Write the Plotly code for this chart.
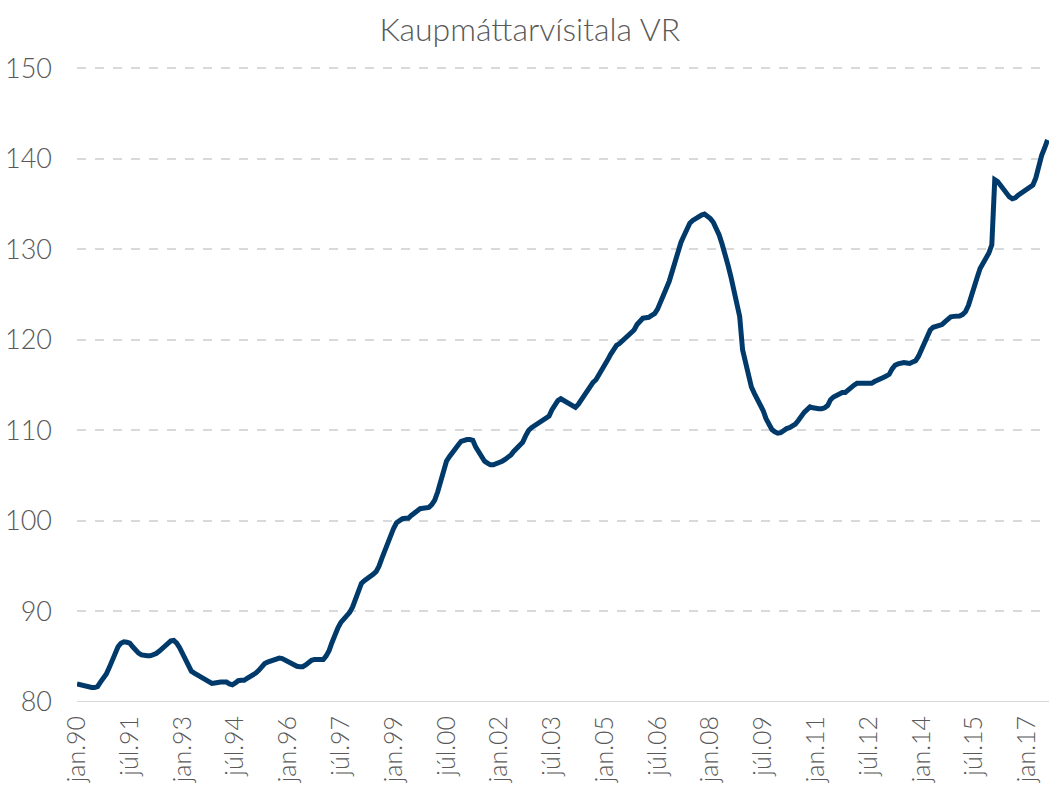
import plotly.graph_objects as go

# Monthly index values (jan.90 .. ágú.17)
v1990 = [82.0, 81.9, 81.8, 81.7, 81.6, 81.6, 81.6, 81.7, 82.2, 82.6, 83.1, 83.8]
v1991 = [84.6, 85.3, 86.1, 86.5, 86.65, 86.6, 86.5, 86.1, 85.7, 85.4, 85.2, 85.1]
v1992 = [85.1, 85.1, 85.2, 85.35, 85.6, 85.9, 86.3, 86.6, 86.75, 86.8, 86.5, 86.0]
v1993 = [85.3, 84.5, 83.9, 83.4, 83.2, 83.0, 82.8, 82.7, 82.4, 82.2, 82.05, 82.1]
v1994 = [82.2, 82.2, 82.2, 82.2, 82.0, 81.9, 82.1, 82.35, 82.4, 82.4, 82.6, 82.8]
v1995 = [82.9, 83.2, 83.5, 83.9, 84.25, 84.4, 84.5, 84.6, 84.7, 84.85, 84.8, 84.6]
v1996 = [84.4, 84.2, 84.0, 83.95, 83.9, 83.9, 84.1, 84.4, 84.6, 84.7, 84.7, 84.7]
v1997 = [84.7, 85.1, 85.7, 86.6, 87.6, 88.2, 88.8, 89.2, 89.4, 89.9, 90.5, 91.4]
v1998 = [92.4, 93.1, 93.4, 93.6, 93.8, 94.1, 94.4, 95.0, 95.9, 96.8, 97.7, 98.4]
v1999 = [99.2, 99.8, 100.1, 100.25, 100.3, 100.3, 100.6, 100.9, 101.1, 101.35, 101.4, 101.4]
v2000 = [101.5, 101.8, 102.3, 103.2, 104.4, 105.9, 106.6, 107.1, 107.6, 108.1, 108.4, 108.8]
v2001 = [108.95, 109.0, 109.0, 108.9, 108.15, 107.6, 107.0, 106.6, 106.4, 106.2, 106.2, 106.3]
v2002 = [106.4, 106.6, 106.8, 107.0, 107.3, 107.7, 108.0, 108.3, 108.7, 109.4, 110.0, 110.3]
v2003 = [110.5, 110.8, 111.0, 111.2, 111.4, 111.6, 112.3, 112.9, 113.3, 113.5, 113.3, 113.0]
v2004 = [112.85, 112.6, 112.55, 112.9, 113.4, 113.9, 114.4, 114.9, 115.3, 115.6, 116.1, 116.7]
v2005 = [117.1, 117.8, 118.4, 118.9, 119.4, 119.6, 119.9, 120.2, 120.4, 120.65, 121.1, 121.7]
v2006 = [122.1, 122.4, 122.45, 122.5, 122.7, 122.9, 123.4, 124.3, 124.8, 125.7, 126.5, 127.6]
v2007 = [128.8, 129.9, 130.8, 131.5, 132.3, 132.9, 133.2, 133.45, 133.65, 133.8, 133.9, 133.7]
v2008 = [133.4, 133.0, 132.4, 131.6, 130.6, 129.6, 128.3, 127.0, 125.7, 124.4, 122.6, 118.9]
v2009 = [117.6, 116.0, 114.8, 114.1, 113.5, 113.0, 112.2, 111.3, 110.6, 110.1, 109.85, 109.7]
v2010 = [109.75, 110.0, 110.2, 110.3, 110.5, 110.7, 111.1, 111.6, 112.0, 112.3, 112.6, 112.5]
v2011 = [112.4, 112.4, 112.4, 112.5, 112.75, 113.4, 113.7, 113.9, 114.1, 114.2, 114.2, 114.5]
v2012 = [114.8, 115.0, 115.2, 115.2, 115.2, 115.2, 115.2, 115.2, 115.4, 115.6, 115.7, 115.85]
v2013 = [116.0, 116.2, 116.8, 117.2, 117.35, 117.45, 117.5, 117.45, 117.4, 117.55, 117.7, 118.2]
v2014 = [118.9, 119.6, 120.4, 121.1, 121.4, 121.5, 121.55, 121.7, 122.0, 122.3, 122.55, 122.6]
v2015 = [122.6, 122.65, 122.8, 123.1, 123.8, 124.7, 126.0, 126.9, 127.9, 128.4, 128.9, 129.6]
v2016 = [130.5, 137.7, 137.5, 137.1, 136.6, 136.1, 135.8, 135.6, 135.7, 136.0, 136.2, 136.4]
v2017 = [136.6, 136.8, 137.1, 137.9, 139.4, 140.4, 141.2, 142.1]

values = (v1990 + v1991 + v1992 + v1993 + v1994 + v1995 + v1996 + v1997 + v1998 +
          v1999 + v2000 + v2001 + v2002 + v2003 + v2004 + v2005 + v2006 + v2007 +
          v2008 + v2009 + v2010 + v2011 + v2012 + v2013 + v2014 + v2015 + v2016 + v2017)

month_names = ["jan", "feb", "mar", "apr", "maí", "jún", "júl", "ágú", "sep", "okt", "nóv", "des"]
years = list(range(1990, 2018))
categories = [f"{m}.{str(y)[2:]}" for y in years for m in month_names][:len(values)]

tick_labels = ["jan.90", "júl.91", "jan.93", "júl.94", "jan.96", "júl.97", "jan.99",
               "júl.00", "jan.02", "júl.03", "jan.05", "júl.06", "jan.08", "júl.09",
               "jan.11", "júl.12", "jan.14", "júl.15", "jan.17"]

y_ticks = [80, 90, 100, 110, 120, 130, 140, 150]

font_family = "Lato, Open Sans, sans-serif"
txt_color = "#595959"

fig = go.Figure()
fig.add_trace(go.Scatter(
    x=categories, y=values, mode="lines",
    line=dict(color="#003a6b", width=5),
    hoverinfo="x+y", showlegend=False,
))

fig.update_layout(
    width=1049, height=791,
    margin=dict(l=77, r=0, t=67, b=89, autoexpand=False),
    paper_bgcolor="white", plot_bgcolor="white",
    title=dict(text="Kaupmáttarvísitala VR", x=0.505, xanchor="center",
               y=0.962, yanchor="middle",
               font=dict(family=font_family, size=32, color=txt_color, weight=300)),
    xaxis=dict(
        type="category", categoryorder="array", categoryarray=categories,
        range=[0, 331.5], automargin=False,
        tickmode="array", tickvals=tick_labels, ticktext=tick_labels,
        tickangle=-90, showgrid=False, zeroline=False,
        showline=False, ticks="", ticklabelstandoff=8,
        tickfont=dict(family=font_family, size=25, color=txt_color, weight=300),
    ),
    yaxis=dict(
        range=[80, 150.15], automargin=False, tickmode="array", tickvals=y_ticks,
        showgrid=True, gridcolor="#d9d9d9", gridwidth=1.5, griddash="dash",
        zeroline=False, showline=False, ticks="", ticklabelstandoff=24,
        tickfont=dict(family=font_family, size=27, color=txt_color, weight=300),
    ),
)

# solid baseline at 80 (category axis line)
fig.add_shape(type="line", xref="paper", yref="y", x0=0, x1=1, y0=80, y1=80,
              line=dict(color="#d9d9d9", width=2), layer="below")

fig.write_html(
    "out.html",
    config={"displayModeBar": False},
    post_script="document.body.style.margin='0';document.body.style.overflow='hidden';",
)
